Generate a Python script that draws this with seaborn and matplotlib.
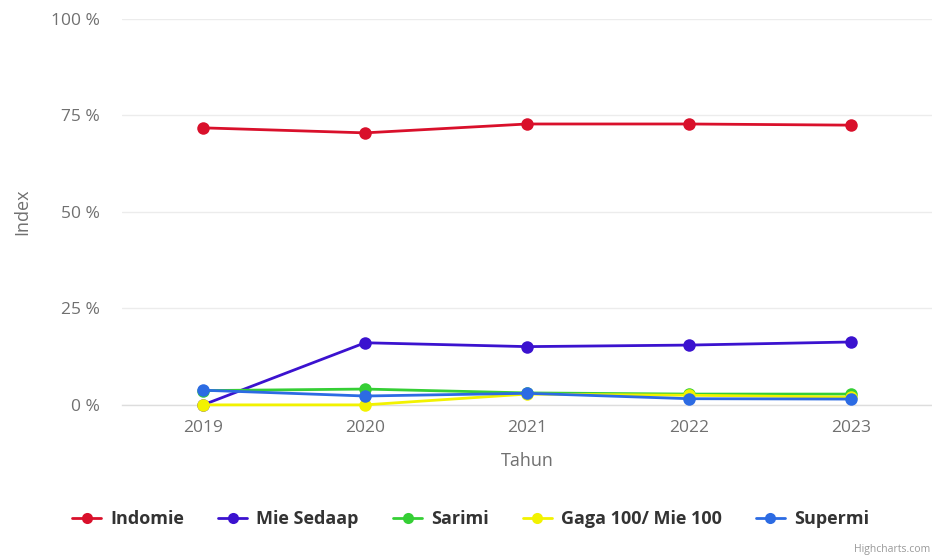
import numpy as np
import pandas as pd
import matplotlib.pyplot as plt
import seaborn as sns
from matplotlib.lines import Line2D

# data (percent)
years = [2019, 2020, 2021, 2022, 2023]
brands = ['Indomie', 'Mie Sedaap', 'Sarimi', 'Gaga 100/ Mie 100', 'Supermi']
indomie = [71.8, 70.5, 72.8, 72.8, 72.5]
mie_sedaap = [0.0, 16.1, 15.1, 15.5, 16.3]
sarimi = [3.7, 4.1, 3.1, 2.8, 2.8]
gaga = [0.0, 0.0, 2.8, 2.5, 2.0]
supermi = [3.8, 2.3, 3.0, 1.6, 1.5]
colors = ['#d9102b', '#3b12cf', '#35cf35', '#f2f200', '#2c6be3']

series = [indomie, mie_sedaap, sarimi, gaga, supermi]
df = pd.DataFrame({
    'Tahun': years * len(brands),
    'Index': np.concatenate(series),
    'brand': np.repeat(brands, len(years)),
})

sns.set_theme(style='white')
plt.rcParams['font.family'] = ['Open Sans', 'DejaVu Sans']

fig = plt.figure(figsize=(9.32, 5.6), dpi=100)
ax = fig.add_axes([0.131, 0.277, 0.869, 0.689])

sns.lineplot(data=df, x='Tahun', y='Index', hue='brand', hue_order=brands,
             palette=colors, marker='o', markersize=9, markeredgewidth=0,
             linewidth=2, ax=ax, legend=False, clip_on=False, zorder=3)

ax.set_xlim(2018.5, 2023.5)
ax.set_ylim(0, 100)
ax.set_xticks(years)
ax.set_xticklabels([str(y) for y in years])
ax.set_yticks([0, 25, 50, 75, 100])
ax.set_yticklabels(['0 %', '25 %', '50 %', '75 %', '100 %'])
ax.tick_params(axis='both', colors='#707070', labelsize=12.5, length=0)
ax.tick_params(axis='y', pad=16)
ax.tick_params(axis='x', pad=11)
ax.grid(axis='y', color='#ececec', linewidth=1)
for s in ['top', 'right', 'left']:
    ax.spines[s].set_visible(False)
ax.spines['bottom'].set_color('#dddddd')
ax.spines['bottom'].set_linewidth(1)

ax.set_xlabel('')
ax.set_ylabel('')
fig.text(0.5 * (0.131 + 1.0), 1 - 461 / 560, 'Tahun', ha='center', va='center',
         color='#707070', fontsize=13)
fig.text(22 / 932, 1 - 212 / 560, 'Index', ha='center', va='center',
         rotation=90, color='#707070', fontsize=13)

handles = [Line2D([0], [0], color=c, marker='o', markersize=8, linewidth=2,
                  markeredgewidth=0) for c in colors]
leg = fig.legend(handles, brands, loc='center', bbox_to_anchor=(0.505, 0.073),
                 ncol=5, frameon=False, handlelength=1.6, columnspacing=1.9,
                 handletextpad=0.5, prop={'weight': 'bold', 'size': 13})
for t in leg.get_texts():
    t.set_color('#333333')

fig.text(0.998, 0.018, 'Highcharts.com', ha='right', va='center',
         fontsize=7.5, color='#999999')

fig.savefig('out.png', dpi=100)
